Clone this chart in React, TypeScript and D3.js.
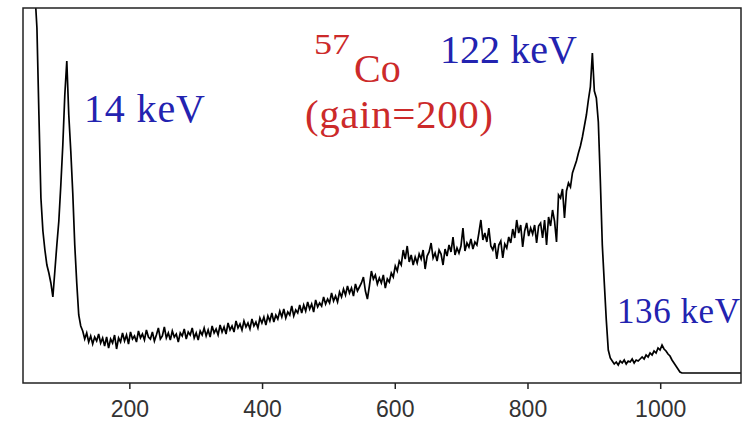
import React from "react";
import * as d3 from "d3";

// Channel sampling of the spectrum (every 3rd channel starting at 57)
const CH_START = 57;
const CH_STEP = 3;

// Counts: 14 keV region (channels 57..126)
const leftCounts = [390, 355, 268, 185, 152, 133, 118, 110, 100, 86, 112, 138, 162, 198, 238, 288, 322, 268, 232, 190, 138, 100, 68, 57];

// Compton / continuum region (channels 129..894)
const midCounts = [
  52, 44, 50, 41, 47, 39, 46, 42, 49, 40,
  45, 37, 46, 35, 44, 40, 48, 34, 45, 41,
  50, 42, 48, 39, 51, 44, 47, 41, 52, 45,
  49, 43, 53, 46, 44, 51, 42, 48, 55, 44,
  47, 56, 45, 50, 43, 52, 46, 49, 41, 50,
  47, 54, 44, 51, 48, 55, 45, 50, 43, 52,
  48, 55, 47, 53, 46, 57, 50, 54, 48, 58,
  51, 56, 49, 60, 53, 57, 51, 62, 55, 59,
  53, 62, 56, 60, 54, 64, 57, 61, 55, 65,
  60, 66, 58, 67, 62, 70, 61, 68, 64, 72,
  66, 74, 65, 71, 68, 77, 67, 73, 70, 78,
  70, 78, 72, 81, 74, 79, 71, 83, 76, 80,
  77, 86, 79, 84, 80, 90, 82, 87, 81, 91,
  86, 94, 88, 97, 90, 95, 87, 99, 92, 96,
  100, 106, 92, 84, 97, 112, 104, 108, 99, 105,
  100, 108, 95, 104, 101, 110, 106, 117, 112, 122,
  118, 133, 124, 137, 121, 128, 118, 126, 120, 129,
  124, 133, 114, 127, 131, 140, 125, 130, 122, 133,
  129, 118, 134, 127, 138, 131, 146, 128, 135, 130,
  137, 155, 132, 140, 136, 144, 134, 141, 138, 150,
  163, 143, 150, 141, 155, 137, 133, 140, 124, 138,
  142, 125, 139, 135, 146, 140, 154, 145, 163, 150,
  158, 136, 152, 160, 147, 155, 149, 158, 140, 157,
  160, 145, 163, 138, 166, 157, 173, 162, 141, 188,
  185, 194, 165, 192, 200, 196, 210, 216, 222, 230,
  237, 246, 257, 268, 283, 296,
];

// 122 keV peak, 136 keV bump and tail (channels 897..1122)
const rightCounts = [
  330, 292, 285, 261, 203, 138, 100, 63, 33, 25,
  22, 19, 21, 18, 22, 20, 23, 19, 22, 21,
  24, 20, 23, 22, 24, 26, 24, 28, 26, 30,
  28, 32, 30, 35, 33, 38, 34, 32, 29, 27,
  23, 20, 17, 14, 11, 10,
  10, 10, 10, 10, 10, 10, 10, 10, 10, 10,
  10, 10, 10, 10, 10, 10, 10, 10, 10, 10,
  10, 10, 10, 10, 10, 10, 10, 10, 10, 10,
];

const counts = [...leftCounts, ...midCounts, ...rightCounts];

const xTicks = [200, 400, 600, 800, 1000];
const X_DOMAIN: [number, number] = [39, 1121];
const Y_DOMAIN: [number, number] = [0, 375];

export default function App() {
  const W = 747;
  const H = 423;
  const L = 23, T = 8, R = 741, B = 383;
  const x = d3.scaleLinear().domain(X_DOMAIN).range([L, R]);
  const y = d3.scaleLinear().domain(Y_DOMAIN).range([B, T]);
  const pts: [number, number][] = counts.map((v, i) => [CH_START + i * CH_STEP, v]);
  const line = d3
    .line<[number, number]>()
    .x((d) => x(d[0]))
    .y((d) => y(d[1]));

  const serif = "'Liberation Serif', 'Times New Roman', serif";
  const blue = "#2323b0";
  const red = "#cc2a2a";

  return (
    <svg
      width={W}
      height={H}
      style={{ position: "absolute", left: 0, top: 0, background: "#fff" }}
    >
      <defs>
        <clipPath id="plot">
          <rect x={L} y={T} width={R - L} height={B - T} />
        </clipPath>
      </defs>
      <rect x={0} y={0} width={W} height={H} fill="#fff" />
      <path
        d={line(pts) || ""}
        fill="none"
        stroke="#000"
        strokeWidth={1.7}
        strokeLinejoin="miter"
        clipPath="url(#plot)"
      />
      <rect
        x={L}
        y={T}
        width={R - L}
        height={B - T}
        fill="none"
        stroke="#222"
        strokeWidth={1.5}
      />
      {xTicks.map((t) => (
        <g key={t}>
          <line x1={x(t)} x2={x(t)} y1={B} y2={B + 6} stroke="#222" strokeWidth={1.5} />
          <text
            x={x(t)}
            y={417}
            textAnchor="middle"
            fontFamily="'Liberation Sans', Arial, sans-serif"
            fontSize={23}
            fill="#333"
          >
            {t}
          </text>
        </g>
      ))}
      <text x={84} y={122} fontFamily={serif} fontSize={40} fill={blue} textLength={121}>
        14 keV
      </text>
      <text x={440} y={63} fontFamily={serif} fontSize={40} fill={blue} textLength={137}>
        122 keV
      </text>
      <text x={617} y={323} fontFamily={serif} fontSize={35} fill={blue} textLength={123}>
        136 keV
      </text>
      <text
        x={314}
        y={54}
        fontFamily={serif}
        fontSize={30}
        fill={red}
        textLength={36}
        lengthAdjust="spacingAndGlyphs"
      >
        57
      </text>
      <text x={354} y={82} fontFamily={serif} fontSize={40} fill={red}>
        Co
      </text>
      <text x={305} y={128} fontFamily={serif} fontSize={41} fill={red} textLength={188}>
        (gain=200)
      </text>
    </svg>
  );
}
